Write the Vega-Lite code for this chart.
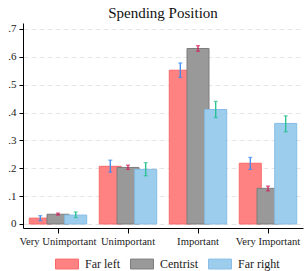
{
  "$schema": "https://vega.github.io/schema/vega-lite/v6.json",
  "autosize": "none",
  "width": 280,
  "height": 205,
  "padding": {"left": 23, "top": 23, "right": 2, "bottom": 43},
  "background": "white",
  "config": {
    "font": "Liberation Serif",
    "view": {"stroke": null},
    "axis": {"labelFont": "Liberation Serif", "titleFont": "Liberation Serif", "labelColor": "#222", "domainColor": "#000", "tickColor": "#000"},
    "axisY": {"title": null, "values": [0, 0.1, 0.2, 0.3, 0.4, 0.5, 0.6, 0.7], "labelOverlap": false,
      "labelExpr": "datum.value == 0 ? '0' : replace(format(datum.value, '.1f'), '0.', '.')",
      "labelFontSize": 11, "tickSize": 4, "labelPadding": 3,
      "grid": true, "gridColor": "#e6e6e6", "gridDash": [5, 3], "gridWidth": 1, "domainWidth": 1}
  },
  "title": {"text": "Spending Position", "font": "Liberation Serif", "fontSize": 15, "fontWeight": "normal", "color": "#111", "offset": 2, "anchor": "middle"},
  "data": {"values": [
    {"cat": "Very Unimportant", "group": "Far left", "value": 0.021, "lo": 0.012, "hi": 0.030},
    {"cat": "Very Unimportant", "group": "Centrist", "value": 0.035, "lo": 0.032, "hi": 0.039},
    {"cat": "Very Unimportant", "group": "Far right", "value": 0.032, "lo": 0.023, "hi": 0.043},
    {"cat": "Unimportant", "group": "Far left", "value": 0.207, "lo": 0.186, "hi": 0.229},
    {"cat": "Unimportant", "group": "Centrist", "value": 0.203, "lo": 0.196, "hi": 0.211},
    {"cat": "Unimportant", "group": "Far right", "value": 0.196, "lo": 0.173, "hi": 0.220},
    {"cat": "Important", "group": "Far left", "value": 0.552, "lo": 0.526, "hi": 0.578},
    {"cat": "Important", "group": "Centrist", "value": 0.630, "lo": 0.620, "hi": 0.640},
    {"cat": "Important", "group": "Far right", "value": 0.411, "lo": 0.382, "hi": 0.440},
    {"cat": "Very Important", "group": "Far left", "value": 0.218, "lo": 0.196, "hi": 0.239},
    {"cat": "Very Important", "group": "Centrist", "value": 0.128, "lo": 0.119, "hi": 0.136},
    {"cat": "Very Important", "group": "Far right", "value": 0.361, "lo": 0.331, "hi": 0.388}
  ]},
  "encoding": {
    "x": {"field": "cat", "type": "nominal", "sort": null,
      "scale": {"paddingInner": 0.18, "paddingOuter": 0.09},
      "axis": {"title": null, "labelAngle": 0, "labelFontSize": 10.6, "tickSize": 5, "labelPadding": 3, "domainWidth": 1}},
    "xOffset": {"field": "group", "type": "nominal", "sort": ["Far left", "Centrist", "Far right"],
      "scale": {"domain": ["Far left", "Centrist", "Far right"], "paddingInner": 0, "paddingOuter": 0.12}}
  },
  "layer": [
    {
      "mark": {"type": "bar", "width": 22, "strokeWidth": 1},
      "encoding": {
        "y": {"field": "value", "type": "quantitative", "title": null,
          "scale": {"domain": [-0.0144, 0.7215], "nice": false, "zero": false}},
        "fill": {"field": "group", "type": "nominal",
          "scale": {"domain": ["Far left", "Centrist", "Far right"], "range": ["#ff8282", "#999999", "#9ccdec"]},
          "legend": {"title": null, "orient": "none", "legendX": 32, "legendY": 229, "direction": "horizontal", "columns": 3,
            "symbolType": "M-1,-0.43H1V0.43H-1Z", "symbolSize": 529, "labelFontSize": 12, "labelFont": "Liberation Serif",
            "labelOffset": 6, "columnPadding": 8, "symbolStrokeWidth": 1, "labelColor": "#222"}},
        "stroke": {"field": "group", "type": "nominal",
          "scale": {"domain": ["Far left", "Centrist", "Far right"], "range": ["#f86a6a", "#7c7c7c", "#86bde6"]},
          "legend": null}
      }
    },
    {
      "mark": {"type": "rule", "strokeWidth": 1.3},
      "encoding": {
        "y": {"field": "lo", "type": "quantitative", "title": null},
        "y2": {"field": "hi"},
        "color": {"field": "group", "type": "nominal",
          "scale": {"domain": ["Far left", "Centrist", "Far right"], "range": ["#3a8cf0", "#d0225a", "#22c08e"]},
          "legend": null}
      }
    },
    {
      "mark": {"type": "tick", "thickness": 1.3, "size": 4, "orient": "horizontal"},
      "encoding": {
        "y": {"field": "lo", "type": "quantitative", "title": null},
        "color": {"field": "group", "type": "nominal", "legend": null}
      }
    },
    {
      "mark": {"type": "tick", "thickness": 1.3, "size": 4, "orient": "horizontal"},
      "encoding": {
        "y": {"field": "hi", "type": "quantitative", "title": null},
        "color": {"field": "group", "type": "nominal", "legend": null}
      }
    }
  ]
}
